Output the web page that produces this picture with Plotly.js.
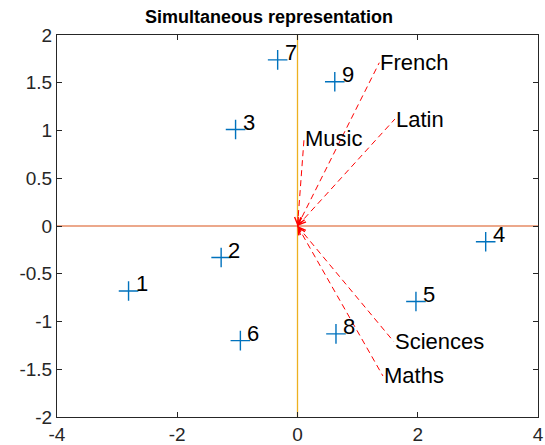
<!DOCTYPE html>
<html>
<head>
<meta charset="utf-8">
<script src="https://cdn.plot.ly/plotly-3.0.1.min.js"></script>
<style>html,body{margin:0;padding:0;background:#fff;}#chart{width:545px;height:445px;}</style>
</head>
<body>
<div id="chart"></div>
<script>
// Individuals (scores)
const pointLabels = ['1','2','3','4','5','6','7','8','9'];
const pointX = [-2.81, -1.27, -1.03, 3.13, 1.97, -0.95, -0.33, 0.64, 0.62];
const pointY = [-0.68, -0.33, 1.01, -0.165, -0.79, -1.20, 1.74, -1.13, 1.51];

// Variables (loadings)
const varNames = ['Maths', 'Sciences', 'French', 'Latin', 'Music'];
const varX = [1.42, 1.60, 1.36, 1.62, 0.11];
const varY = [-1.57, -1.21, 1.71, 1.12, 0.92];

const xTicks = [-4, -2, 0, 2, 4];
const yTicks = [-2, -1.5, -1, -0.5, 0, 0.5, 1, 1.5, 2];
const xRange = [-4, 4];
const yRange = [-2, 2];

const FONT = 'Liberation Sans, Arial, sans-serif';
const traces = [];

// reference axes lines through origin
traces.push({x: xRange, y: [0, 0], mode: 'lines', line: {color: '#D95319', width: 1.2}, hoverinfo: 'skip', showlegend: false});
traces.push({x: [0, 0], y: yRange, mode: 'lines', line: {color: '#EDB120', width: 1.3}, hoverinfo: 'skip', showlegend: false});

// variable vectors (dashed)
varNames.forEach((n, i) => {
  traces.push({x: [0, varX[i]], y: [0, varY[i]], mode: 'lines',
    line: {color: '#FF0000', width: 1, dash: '6px,4px'}, hoverinfo: 'skip', showlegend: false});
});

// individuals
traces.push({x: pointX, y: pointY, mode: 'markers', type: 'scatter',
  marker: {symbol: 'cross-thin-open', size: 14, line: {color: '#0072BD', width: 1.4}, color: '#0072BD'},
  showlegend: false});

const annotations = [];
pointLabels.forEach((t, i) => {
  annotations.push({x: pointX[i], y: pointY[i], text: t, showarrow: false, xanchor: 'left', yanchor: 'middle',
    xshift: 5, yshift: 7, font: {family: FONT, size: 22, color: '#000'}});
});
varNames.forEach((n, i) => {
  annotations.push({x: varX[i], y: varY[i], text: n, showarrow: false, xanchor: 'left', yanchor: 'middle',
    xshift: -1, font: {family: FONT, size: 22, color: '#000'}});
  // small open arrowhead at origin
  annotations.push({x: 0, y: 0, ax: varX[i] * 0.05, ay: varY[i] * 0.05, axref: 'x', ayref: 'y',
    text: '', showarrow: true, arrowhead: 5, arrowsize: 1.4, arrowwidth: 1, arrowcolor: '#FF0000'});
});

const axisCommon = {
  showgrid: false, zeroline: false, showline: true, mirror: 'ticks', linecolor: '#262626', linewidth: 1,
  ticks: 'inside', ticklen: 5, tickcolor: '#262626', tickwidth: 1,
  tickfont: {family: FONT, size: 19, color: '#262626'}
};

const layout = {
  width: 545, height: 445,
  margin: {l: 57, r: 7, t: 35, b: 28, pad: 0},
  paper_bgcolor: '#fff', plot_bgcolor: '#fff',
  title: {text: '<b>Simultaneous representation</b>', font: {family: FONT, size: 18, color: '#000'},
    x: 269 / 545, xref: 'container', xanchor: 'center', y: 1 - 17 / 445, yref: 'container', yanchor: 'middle'},
  xaxis: Object.assign({}, axisCommon, {range: xRange, tickvals: xTicks, ticktext: xTicks.map(String)}),
  yaxis: Object.assign({}, axisCommon, {range: yRange, tickvals: yTicks, ticktext: yTicks.map(String)}),
  annotations: annotations,
  showlegend: false
};

Plotly.newPlot('chart', traces, layout, {displayModeBar: false, staticPlot: true});
</script>
</body>
</html>
